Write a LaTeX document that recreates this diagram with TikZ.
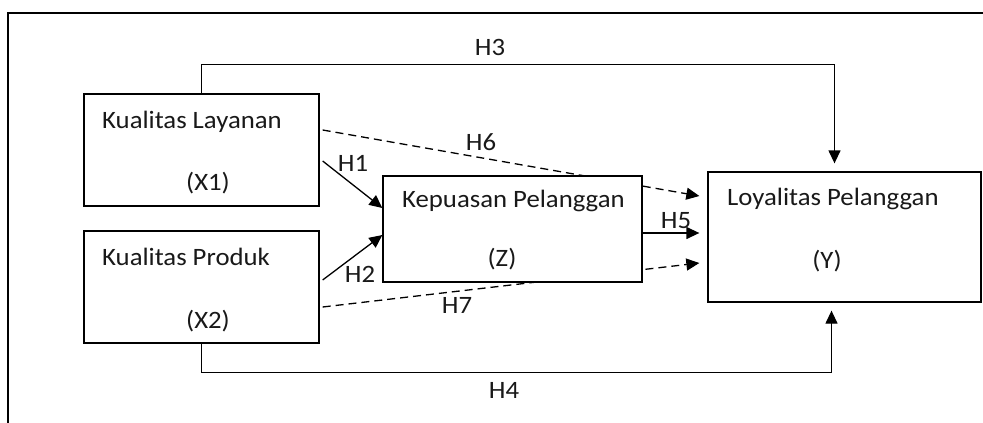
\documentclass[tikz,border=0pt]{standalone}
\usepackage{fontspec}
\setmainfont{Carlito}[FakeStretch=1.07]
\usetikzlibrary{arrows.meta, backgrounds}

\begin{document}
\begin{tikzpicture}[x=1pt, y=-1pt,
  box/.style={rectangle, draw, line width=1.3pt, fill=white, inner sep=0pt},
  txt/.style={inner sep=0pt, anchor=base west, font=\fontsize{25}{29}\selectfont, text=black!90},
  ctxt/.style={txt, anchor=base},
  arrow/.style={-{Triangle[length=13pt, width=12pt]}, line width=1.3pt},
  darrow/.style={arrow, dash pattern=on 8pt off 5pt},
  link/.style={line width=1.3pt}
]
\useasboundingbox (0,0) rectangle (983,423);

%% ---- frame ----
\draw[link] (8,423) -- (8,13) -- (983,13);

%% ---- independent variables (left) ----
\node[box, minimum width=235pt, minimum height=112pt] at (201.5,150) (x1) {};
\node[txt]  at (102,128) (x1name) {Kualitas Layanan};
\node[ctxt] at (208,190) (x1code) {(X1)};

\node[box, minimum width=235pt, minimum height=112pt] at (201.5,287) (x2) {};
\node[txt]  at (102,265) (x2name) {Kualitas Produk};
\node[ctxt] at (208,328) (x2code) {(X2)};

%% ---- mediator (centre) ----
\node[box, minimum width=259pt, minimum height=106pt] at (512.5,229) (z) {};
\node[txt]  at (402,207) (zname) {Kepuasan Pelanggan};
\node[ctxt] at (502,266) (zcode) {(Z)};

%% ---- dependent variable (right) ----
\node[box, minimum width=273pt, minimum height=130pt] at (844.5,237) (y) {};
\node[txt]  at (727,205) (yname) {Loyalitas Pelanggan};
\node[ctxt] at (827,268) (ycode) {(Y)};

%% ---- Arrows ----
\begin{pgfonlayer}{background}
\draw[darrow] ([shift={(3,-20)}]x1.east) -- ([shift={(-8,-41)}]y.west);
\draw[darrow] ([shift={(3,20)}]x2.east)  -- ([shift={(-8,26)}]y.west);
\end{pgfonlayer}
\draw[arrow] ([shift={(3,11)}]x1.east) -- ([shift={(0,-21)}]z.west);
\draw[arrow] ([shift={(3,-7)}]x2.east) -- ([shift={(0,6)}]z.west);
\draw[arrow] ([shift={(0,4)}]z.east)   -- ([shift={(-8,-4)}]y.west);
\draw[arrow] (x1.north) -- ++(0,-29) -| ([shift={(-10,-8)}]y.north);
\draw[arrow] (x2.south) -- ++(0,29)  -| ([shift={(-13,8)}]y.south);

%% ---- Hypothesis labels ----
\node[ctxt] at (490,55)  (h3) {H3};
\node[ctxt] at (504,398) (h4) {H4};
\node[ctxt] at (481,150) (h6) {H6};
\node[ctxt] at (353,171) (h1) {H1};
\node[ctxt] at (360,282) (h2) {H2};
\node[ctxt] at (457,313) (h7) {H7};
\node[ctxt] at (676,228) (h5) {H5};
\end{tikzpicture}
\end{document}
